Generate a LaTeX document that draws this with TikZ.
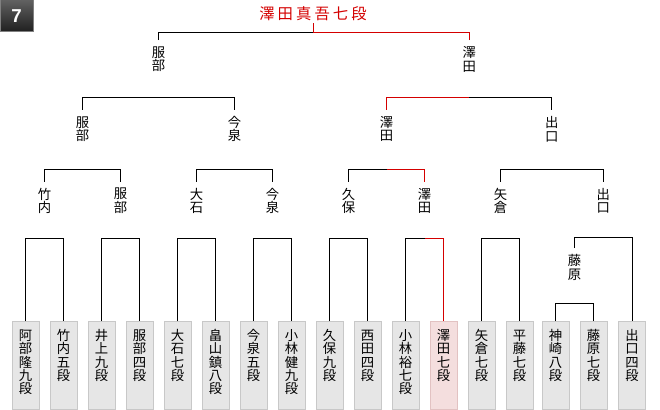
\documentclass[tikz,border=0pt]{standalone}
\usepackage{fontspec}
\newfontfamily\jpfont{Noto Sans CJK JP}
\newfontfamily\champfont[LetterSpace=20]{Noto Sans CJK JP}
\newfontfamily\numfont{Liberation Sans}
\definecolor{winred}{HTML}{D40000}
\definecolor{leafgray}{HTML}{E6E6E6}
\definecolor{leafline}{HTML}{C8C8C8}
\definecolor{wonfill}{HTML}{F4DEDE}
\definecolor{wonline}{HTML}{E2C2C2}

\begin{document}
\begin{tikzpicture}[
      x=0.75pt, y=-0.75pt,
      every node/.style={inner sep=0pt},
      player/.style={font=\jpfont\fontsize{10}{10}\selectfont, align=center, minimum height=28.5pt},
      leaf/.style={draw=leafline, fill=leafgray, line width=0.75pt, anchor=north, text width=20.25pt,
                   align=center, text height=14.2pt, text depth=51.8pt, font=\jpfont\fontsize{10}{10}\selectfont},
      wonleaf/.style={leaf, draw=wonline, fill=wonfill},
      bracket/.style={line width=0.75pt},
      winline/.style={line width=0.75pt, draw=winred}
    ]
    \useasboundingbox (0,0) rectangle (660,410);

    % round number
    \node[minimum width=24.75pt, minimum height=24pt, top color=black!62, bottom color=black!88,
          draw=black!50, line width=0.75pt, text=white, font=\numfont\bfseries\fontsize{14}{14}\selectfont] (round) at (16.5,16) {7};

    % winner
    \node[font=\champfont\fontsize{11.5}{12}\selectfont, text=winred, anchor=base, text depth=2.25pt] (champ) at (313,20) {澤田真吾七段};

    % first round
    \node[leaf] (l1) at (25.5,321) {阿\\部\\隆\\九\\段};
    \node[leaf] (l2) at (63.5,321) {竹\\内\\五\\段};
    \node[leaf] (l3) at (101.5,321) {井\\上\\九\\段};
    \node[leaf] (l4) at (139.5,321) {服\\部\\四\\段};
    \node[leaf] (l5) at (177.5,321) {大\\石\\七\\段};
    \node[leaf] (l6) at (215.5,321) {畠\\山\\鎮\\八\\段};
    \node[leaf] (l7) at (253.5,321) {今\\泉\\五\\段};
    \node[leaf] (l8) at (291.5,321) {小\\林\\健\\九\\段};
    \node[leaf] (l9) at (329.5,321) {久\\保\\九\\段};
    \node[leaf] (l10) at (367.5,321) {西\\田\\四\\段};
    \node[leaf] (l11) at (405.5,321) {小\\林\\裕\\七\\段};
    \node[wonleaf] (l12) at (443.5,321) {澤\\田\\七\\段};
    \node[leaf] (l13) at (481.5,321) {矢\\倉\\七\\段};
    \node[leaf] (l14) at (519.5,321) {平\\藤\\七\\段};
    \node[leaf] (l15) at (555.5,321) {神\\崎\\八\\段};
    \node[leaf] (l16) at (593.5,321) {藤\\原\\七\\段};
    \node[leaf] (l17) at (632,321) {出\\口\\四\\段};

    % winners of each round
    \node[player] (fujiwara) at (574.5,267.5) {藤\\原};

    \node[player] (takeuchi) at (44.5,200.8) {竹\\内};
    \node[player] (hattori3) at (120.5,200.8) {服\\部};
    \node[player] (oishi) at (196.5,200.8) {大\\石};
    \node[player] (imaizumi3) at (272.5,200.8) {今\\泉};
    \node[player] (kubo) at (348.5,200.8) {久\\保};
    \node[player] (sawada3) at (424.5,200.8) {澤\\田};
    \node[player] (yagura) at (500.5,200.8) {矢\\倉};
    \node[player] (deguchi3) at (603.3,200.8) {出\\口};

    \node[player] (hattori2) at (82.5,129.2) {服\\部};
    \node[player] (imaizumi2) at (234.5,129.2) {今\\泉};
    \node[player] (sawada2) at (386.5,129.2) {澤\\田};
    \node[player] (deguchi2) at (551.9,129.2) {出\\口};

    \node[player] (hattori1) at (158.5,59.5) {服\\部};
    \node[player] (sawada1) at (469.2,59.5) {澤\\田};

    % brackets
    \draw[bracket] (l1.north) -- ++(0,-83) -| (l2.north);
    \draw[bracket] (l3.north) -- ++(0,-83) -| (l4.north);
    \draw[bracket] (l5.north) -- ++(0,-83) -| (l6.north);
    \draw[bracket] (l7.north) -- ++(0,-83) -| (l8.north);
    \draw[bracket] (l9.north) -- ++(0,-83) -| (l10.north);
    \draw[bracket] (l11.north) -- ++(0,-83) -| (l12.north);
    \draw[bracket] (l13.north) -- ++(0,-83) -| (l14.north);
    \draw[bracket] (l15.north) -- ++(0,-17.7) -| (l16.north);
    \draw[bracket] (fujiwara.north) -- ++(0,-10.5) -| (l17.north);

    \draw[bracket] (takeuchi.north) -- ++(0,-12.5) -| (hattori3.north);
    \draw[bracket] (oishi.north) -- ++(0,-12.5) -| (imaizumi3.north);
    \draw[bracket] (kubo.north) -- ++(0,-12.5) -| (sawada3.north);
    \draw[bracket] (yagura.north) -- ++(0,-12.5) -| (deguchi3.north);

    \draw[bracket] (hattori2.north) -- ++(0,-12) -| (imaizumi2.north);
    \draw[bracket] (sawada2.north) -- ++(0,-12) -| (deguchi2.north);

    \draw[bracket] (hattori1.north) -- ++(0,-8) -| (sawada1.north);

    % path of the winner
    \draw[winline] (l12.north) -- ++(0,-83) coordinate (w4) -- (w4 -| sawada3);
    \draw[winline] (sawada3.north) -- ++(0,-12.5) coordinate (w3) -- (w3 -| sawada2);
    \draw[winline] (sawada2.north) -- ++(0,-12) coordinate (w2) -- (w2 -| sawada1);
    \draw[winline] (sawada1.north) -- ++(0,-8) -| (champ.south);
  \end{tikzpicture}
\end{document}
